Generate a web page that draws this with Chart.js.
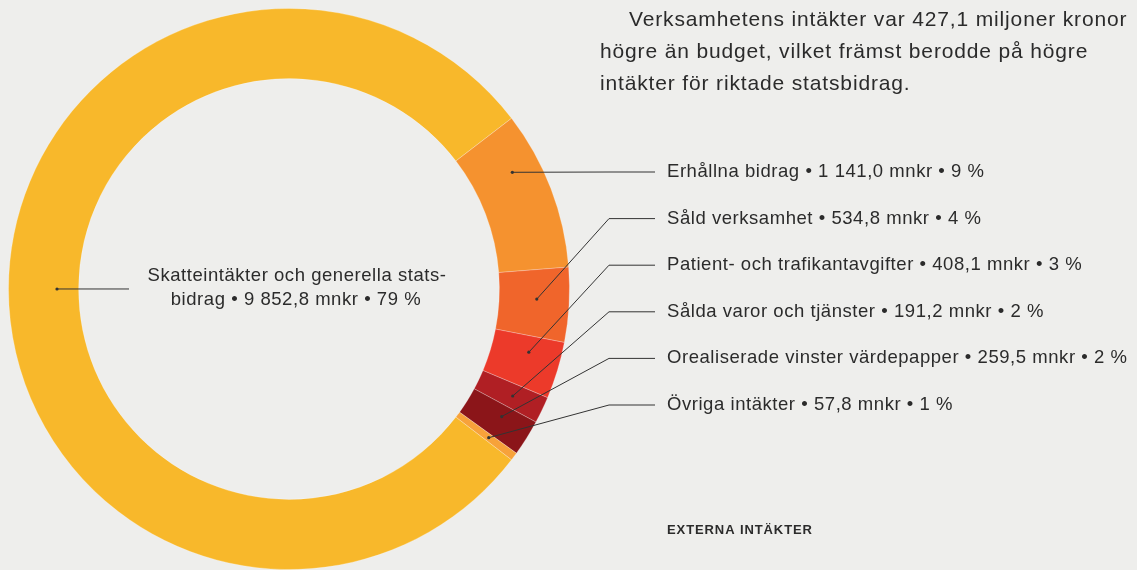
<!DOCTYPE html>
<html lang="sv">
  <head>
    <meta charset="UTF-8" />
    <title>Externa intäkter</title>
    <script src="https://cdn.jsdelivr.net/npm/chart.js"></script>
    <style>
      body {
        margin: 0;
        background: #eeeeec;
      }
      #wrap {
        position: relative;
        width: 1137px;
        height: 570px;
      }
    </style>
  </head>
  <body>
    <div id="wrap">
      <canvas id="myChart" width="1137" height="570"></canvas>
    </div>
    <script>
      // data
      var kategorier = [
        "Skatteintäkter och generella statsbidrag",
        "Erhållna bidrag",
        "Såld verksamhet",
        "Patient- och trafikantavgifter",
        "Sålda varor och tjänster",
        "Orealiserade vinster värdepapper",
        "Övriga intäkter",
      ];
      var belopp = [9852.8, 1141.0, 534.8, 408.1, 191.2, 259.5, 57.8];
      var beloppText = ["9 852,8", "1 141,0", "534,8", "408,1", "191,2", "259,5", "57,8"];
      var procent = [79, 9, 4, 3, 2, 2, 1];
      var farger = ["#f8b82b", "#f5922f", "#f0652b", "#ec3a2a", "#b01f24", "#8b1519", "#f7a23a"];

      var rubrik = [
        "Verksamhetens intäkter var 427,1 miljoner kronor",
        "högre än budget, vilket främst berodde på högre",
        "intäkter för riktade statsbidrag.",
      ];

      // where the leader starts inside each slice (fraction of the slice, radius)
      var ledare = [
        { frac: 0.5, r: 232 },
        { frac: 0.3, r: 252 },
        { frac: 0.44, r: 248 },
        { frac: 0.32, r: 248 },
        { frac: 0.5, r: 248 },
        { frac: 0.35, r: 248 },
        { frac: 0.5, r: 249 },
      ];

      var etiketter = {
        id: "etiketter",
        afterDraw: function (chart) {
          var ctx = chart.ctx;
          var arcs = chart.getDatasetMeta(0).data;
          ctx.save();
          ctx.fillStyle = "#2b2b2b";
          ctx.textBaseline = "middle";

          // intro text
          ctx.font = "21px 'Liberation Sans', Arial, sans-serif";
          ctx.letterSpacing = "0.85px";
          ctx.textAlign = "left";
          ctx.fillText(rubrik[0], 629, 20);
          ctx.fillText(rubrik[1], 600, 52);
          ctx.fillText(rubrik[2], 600, 84);

          ctx.strokeStyle = "#333";
          ctx.lineWidth = 1;

          for (var i = 0; i < arcs.length; i++) {
            var a = arcs[i];
            var ang = a.startAngle + ledare[i].frac * (a.endAngle - a.startAngle);
            var px = a.x + ledare[i].r * Math.cos(ang);
            var py = a.y + ledare[i].r * Math.sin(ang);

            ctx.beginPath();
            ctx.arc(px, py, 1.6, 0, Math.PI * 2);
            ctx.fillStyle = "#333";
            ctx.fill();

            ctx.beginPath();
            ctx.moveTo(px, py);
            if (i == 0) {
              ctx.lineTo(129, py);
            } else {
              var ly = 172 + (i - 1) * 46.6;
              ctx.lineTo(609, ly);
              ctx.lineTo(655, ly);
            }
            ctx.stroke();

            ctx.fillStyle = "#2b2b2b";
            ctx.font = "18.5px 'Liberation Sans', Arial, sans-serif";
            ctx.letterSpacing = "0.55px";
            if (i == 0) {
              ctx.textAlign = "center";
              ctx.fillText("Skatteintäkter och generella stats-", 297, 276);
              ctx.fillText("bidrag • " + beloppText[0] + " mnkr • " + procent[0] + " %", 296, 300);
            } else {
              ctx.textAlign = "left";
              ctx.fillText(
                kategorier[i] + " • " + beloppText[i] + " mnkr • " + procent[i] + " %",
                667,
                172 + (i - 1) * 46.6
              );
            }
          }

          ctx.font = "bold 13px 'Liberation Sans', Arial, sans-serif";
          ctx.letterSpacing = "0.9px";
          ctx.textAlign = "left";
          ctx.fillText("EXTERNA INTÄKTER", 667, 530);
          ctx.restore();
        },
      };

      const ctx = document.getElementById("myChart");
      new Chart(ctx, {
        type: "doughnut",
        data: {
          labels: kategorier,
          datasets: [
            {
              data: belopp,
              backgroundColor: farger,
              borderColor: "rgba(255,255,255,0.25)",
              borderWidth: 1,
            },
          ],
        },
        options: {
          responsive: false,
          animation: false,
          rotation: 127.5,
          cutout: "75%",
          layout: {
            padding: { left: 8, top: 8, right: 567, bottom: 0 },
          },
          plugins: {
            legend: { display: false },
            tooltip: { enabled: false },
          },
        },
        plugins: [etiketter],
      });
    </script>
  </body>
</html>
